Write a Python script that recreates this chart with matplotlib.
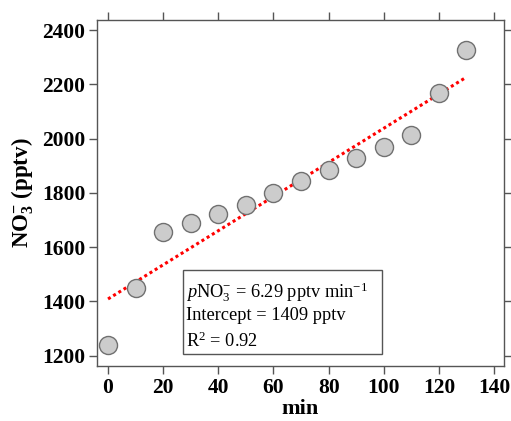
import matplotlib
matplotlib.use("Agg")
import matplotlib.pyplot as plt
from matplotlib.patches import Rectangle
import numpy as np

minutes = [0, 10, 20, 30, 40, 50, 60, 70, 80, 90, 100, 110, 120, 130]
no3 = [1240, 1450, 1657, 1690, 1722, 1757, 1800, 1843, 1885, 1928, 1970, 2013, 2168, 2325]
slope = 6.29
intercept = 1409
r2 = 0.92
xticks = [0, 20, 40, 60, 80, 100, 120, 140]
yticks = [1200, 1400, 1600, 1800, 2000, 2200, 2400]

plt.rcParams['font.family'] = ['Liberation Serif', 'DejaVu Serif']
plt.rcParams['mathtext.fontset'] = 'custom'
plt.rcParams['mathtext.rm'] = 'Liberation Serif'
plt.rcParams['mathtext.it'] = 'Liberation Serif:italic'
plt.rcParams['mathtext.bf'] = 'Liberation Serif:bold'

fig = plt.figure(figsize=(5.11, 4.21), dpi=100)
ax = fig.add_axes([97/511, 1 - 366/421, (504-97)/511, (366-20)/421])

fx = np.array([minutes[0], minutes[-1]])
ax.plot(fx, intercept + slope * fx, linestyle=(0, (1, 1)), color='red', lw=2.2,
        solid_capstyle='butt', dash_capstyle='butt', zorder=2)
ax.plot(minutes, no3, 'o', ms=13, mfc='#cccccc', mec='#707070', mew=1.0, zorder=3)

ax.set_xlim(-4.0, 143.6)
ax.set_ylim(1162, 2437)
ax.set_xticks(xticks)
ax.set_yticks(yticks)
for s in ax.spines.values():
    s.set_color('#555555')
    s.set_linewidth(1.0)
ax.tick_params(direction='out', length=6, width=1, color='#555555',
               top=True, right=True, labeltop=False, labelright=False,
               labelsize=15.5, pad=2.5)
for lab in ax.get_xticklabels() + ax.get_yticklabels():
    lab.set_fontweight('bold')

ax.set_xlabel('min', fontsize=16, fontweight='bold', labelpad=0.5)
ax.set_ylabel(r'NO$_\mathbf{3}^{\mathbf{-}}$ (pptv)', fontsize=16.5, fontweight='bold', labelpad=4)

ax.add_patch(Rectangle((0.211, 0.035), 0.489, 0.242, transform=ax.transAxes,
                       fc='white', ec='#555555', lw=1.0, zorder=4))
lines = [r'$\mathit{p}$NO$_3^{-}$ = %.2f pptv min$^{-1}$' % slope,
         'Intercept = %d pptv' % intercept,
         r'R$^2$ = %.2f' % r2]
ys = [0.199, 0.133, 0.055]
for t, y in zip(lines, ys):
    ax.text(0.219, y, t, transform=ax.transAxes, fontsize=13.2, va='baseline',
            ha='left', zorder=5)

fig.savefig('out.png', dpi=100)
